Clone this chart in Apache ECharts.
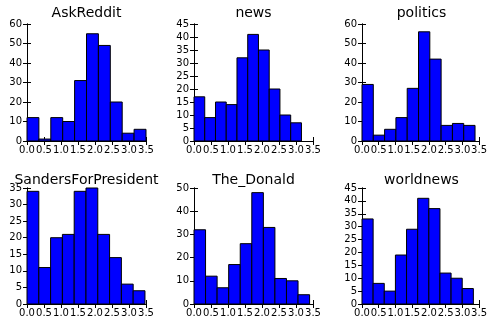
<!DOCTYPE html>
<html><head><meta charset="utf-8">
<script src="https://cdn.jsdelivr.net/npm/echarts@6/dist/echarts.min.js"></script>
<style>html,body{margin:0;padding:0;background:#fff}#c{width:490px;height:322px}</style>
</head><body><div id="c"></div>
<script>
var categories = ['AskReddit','news','politics','SandersForPresident','The_Donald','worldnews'];
var askReddit = [12,1,12,10,31,55,49,20,4,6];
var news = [17,9,15,14,32,41,35,20,10,7];
var politics = [29,3,6,12,27,56,42,8,9,8];
var sanders = [34,11,20,21,34,35,21,14,6,4];
var theDonald = [32,12,7,17,26,48,33,11,10,4];
var worldnews = [33,8,5,19,29,41,37,12,10,6];
var binMin = [0,0,0,0,0,0];
var binMax = [3.5,3.16,3.38,3.47,3.40,3.33];
var yMax = [60,45,60,35,50,45];
var yStep = [10,5,10,5,10,5];
var xTicks = [0,0.5,1,1.5,2,2.5,3,3.5];

var counts = [askReddit, news, politics, sanders, theDonald, worldnews];
var colLeft = [27,194,362], rowTop = [24,188], rowH = [117,116], W = 119;
var font = 'DejaVu Sans';
var grids=[], xAxes=[], yAxes=[], series=[], titles=[], topX=[], rightY=[];
for (var i=0;i<6;i++){
  var r = Math.floor(i/3), c = i%3;
  grids.push({left:colLeft[c], top:rowTop[r], width:W, height:rowH[r], containLabel:false});
  var common = {gridIndex:i, type:'value', min:xTicks[0], max:xTicks[xTicks.length-1], interval:0.5,
    axisLine:{show:true,lineStyle:{color:'#000',width:1}}, splitLine:{show:false},
    axisTick:{show:true,inside:true,length:4,lineStyle:{color:'#000'}}};
  xAxes.push(Object.assign({}, common, {position:'bottom',
    axisLabel:{show:true,fontFamily:font,fontSize:10,color:'#000',margin:4,showMinLabel:true,showMaxLabel:true,
      formatter:function(v){return v.toFixed(1);}}}));
  topX.push(Object.assign({}, common, {position:'top', axisLabel:{show:false}}));
  var ycommon = {gridIndex:i, type:'value', min:0, max:yMax[i], interval:yStep[i],
    axisLine:{show:true,lineStyle:{color:'#000',width:1}}, splitLine:{show:false},
    axisTick:{show:true,inside:true,length:4,lineStyle:{color:'#000'}}};
  yAxes.push(Object.assign({}, ycommon, {position:'left',
    axisLabel:{show:true,fontFamily:font,fontSize:10,color:'#000',margin:5,showMinLabel:true,showMaxLabel:true}}));
  rightY.push(Object.assign({}, ycommon, {position:'right', axisLabel:{show:false}}));
  var step = (binMax[i]-binMin[i])/counts[i].length;
  var data = counts[i].map(function(v,k){ return [binMin[i]+k*step, binMin[i]+(k+1)*step, v]; });
  series.push({type:'custom', xAxisIndex:i, yAxisIndex:i, data:data, encode:{x:[0,1],y:2},
    renderItem:function(params, api){
      var s = api.coord([api.value(0),0]);
      var e = api.coord([api.value(1),api.value(2)]);
      return {type:'rect', shape:{x:s[0], y:e[1], width:e[0]-s[0], height:s[1]-e[1]},
        style:{fill:'#0000ff', stroke:'#000', lineWidth:1}};
    }});
  titles.push({text:categories[i], left:colLeft[c]+W/2, top:(r===0?6:173), textAlign:'center', padding:0,
    textStyle:{fontFamily:font,fontSize:14,fontWeight:'normal',color:'#000'}});
}
var chart = echarts.init(document.getElementById('c'), null, {renderer:'canvas'});
chart.setOption({
  animation:false, backgroundColor:'#fff',
  title:titles, grid:grids, xAxis:xAxes.concat(topX), yAxis:yAxes.concat(rightY), series:series
});
</script></body></html>
